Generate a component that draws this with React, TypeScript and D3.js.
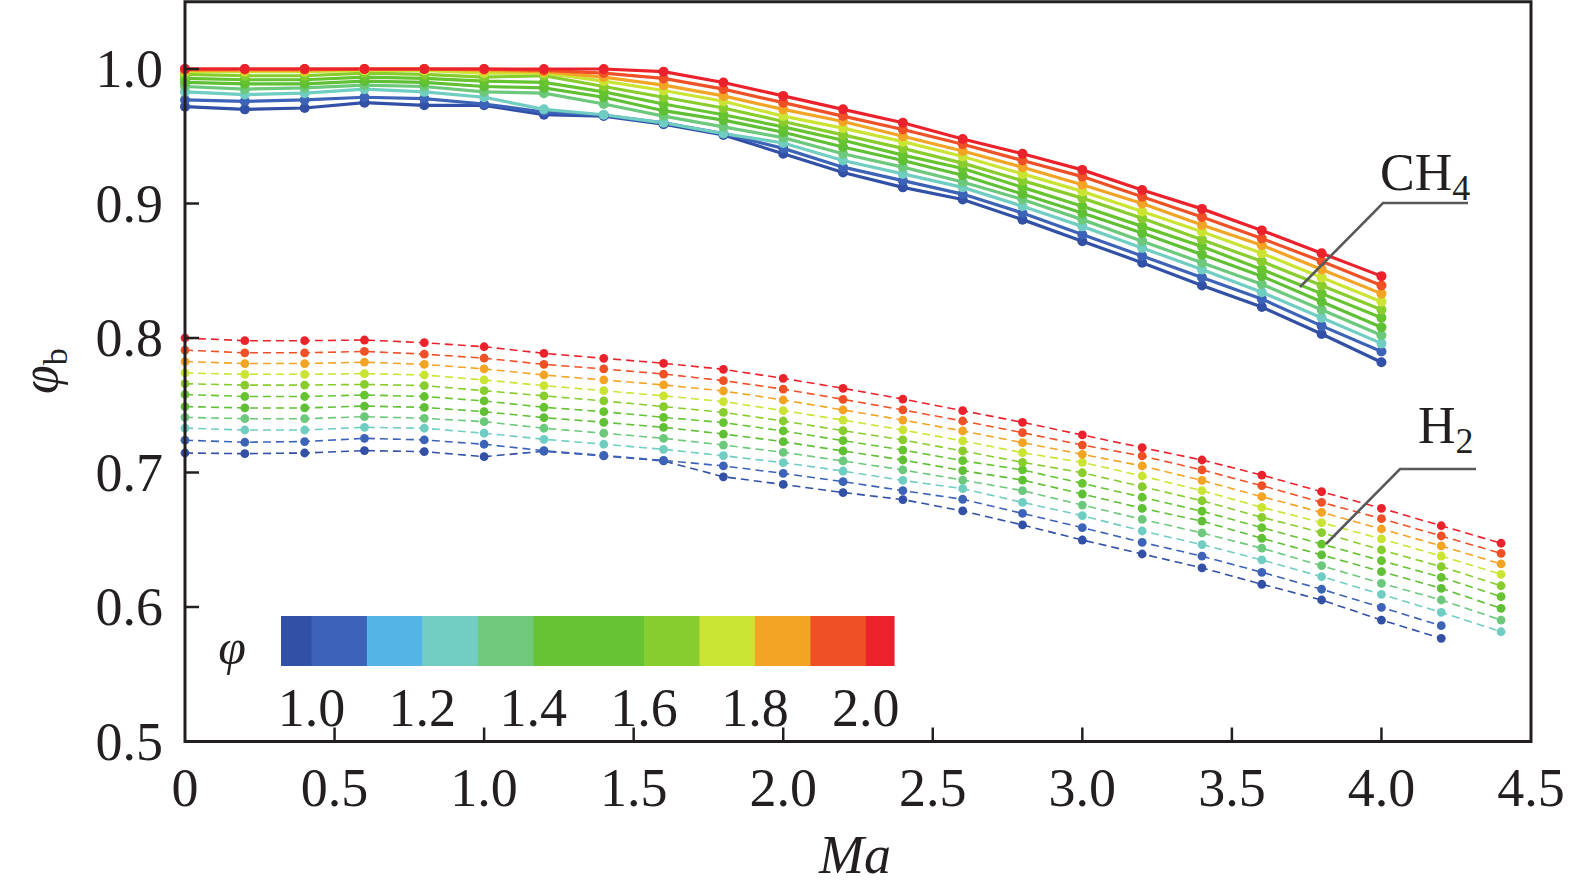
import { line, scaleLinear } from "d3";

// equivalence ratio φ of each series, bottom (1.0) to top (2.0)
const PHI = [1.0, 1.1, 1.2, 1.3, 1.4, 1.5, 1.6, 1.7, 1.8, 1.9, 2.0];
const SERIES_COLORS = [
  "#3150a6",
  "#3d63b9",
  "#70cdc2",
  "#6cc97b",
  "#5fbf35",
  "#66c431",
  "#88cd2d",
  "#cbe433",
  "#f3a424",
  "#ef5026",
  "#eb222b",
];

const MA_CH4 = [
  0, 0.2, 0.4, 0.6, 0.8, 1.0, 1.2, 1.4, 1.6, 1.8, 2.0, 2.2, 2.4, 2.6, 2.8, 3.0,
  3.2, 3.4, 3.6, 3.8, 4.0,
];
const MA_H2 = [
  0, 0.2, 0.4, 0.6, 0.8, 1.0, 1.2, 1.4, 1.6, 1.8, 2.0, 2.2, 2.4, 2.6, 2.8, 3.0,
  3.2, 3.4, 3.6, 3.8, 4.0, 4.2, 4.4,
];

// CH4, one row per φ (same order as PHI)
const CH4_ROWS: number[][] = [
  [0.972, 0.970, 0.971, 0.975, 0.973, 0.973, 0.966, 0.965, 0.959, 0.951, 0.937, 0.923, 0.912, 0.903, 0.888, 0.872, 0.856, 0.839, 0.823, 0.803, 0.782],
  [0.977, 0.976, 0.977, 0.979, 0.978, 0.974, 0.968, 0.9655, 0.960, 0.952, 0.941, 0.927, 0.917, 0.907, 0.893, 0.877, 0.861, 0.845, 0.829, 0.809, 0.790],
  [0.983, 0.981, 0.982, 0.985, 0.983, 0.979, 0.970, 0.966, 0.960, 0.952, 0.945, 0.932, 0.922, 0.912, 0.898, 0.883, 0.867, 0.851, 0.834, 0.815, 0.796],
  [0.987, 0.985, 0.986, 0.988, 0.987, 0.983, 0.982, 0.974, 0.965, 0.957, 0.949, 0.937, 0.927, 0.916, 0.903, 0.888, 0.872, 0.856, 0.840, 0.821, 0.802],
  [0.990, 0.989, 0.989, 0.991, 0.990, 0.987, 0.986, 0.979, 0.969, 0.962, 0.953, 0.942, 0.932, 0.921, 0.907, 0.893, 0.878, 0.862, 0.846, 0.827, 0.808],
  [0.993, 0.992, 0.992, 0.994, 0.993, 0.991, 0.990, 0.983, 0.974, 0.966, 0.957, 0.947, 0.936, 0.926, 0.912, 0.898, 0.883, 0.868, 0.851, 0.833, 0.815],
  [0.996, 0.995, 0.995, 0.997, 0.996, 0.994, 0.995, 0.987, 0.979, 0.971, 0.961, 0.951, 0.941, 0.930, 0.917, 0.904, 0.889, 0.873, 0.857, 0.839, 0.821],
  [0.998, 0.998, 0.998, 0.999, 0.999, 0.997, 0.997, 0.991, 0.984, 0.976, 0.965, 0.956, 0.946, 0.935, 0.922, 0.909, 0.894, 0.879, 0.863, 0.845, 0.827],
  [0.999, 0.999, 0.999, 1.0, 1.0, 0.999, 0.998, 0.994, 0.988, 0.980, 0.970, 0.961, 0.950, 0.939, 0.927, 0.914, 0.900, 0.884, 0.869, 0.851, 0.833],
  [1.0, 1.0, 1.0, 1.0, 1.0, 1.0, 0.999, 0.997, 0.993, 0.985, 0.975, 0.965, 0.955, 0.944, 0.932, 0.920, 0.905, 0.890, 0.874, 0.857, 0.839],
  [1.0, 1.0, 1.0, 1.0, 1.0, 1.0, 1.0, 1.0, 0.998, 0.990, 0.980, 0.970, 0.960, 0.948, 0.937, 0.925, 0.910, 0.896, 0.880, 0.863, 0.846],
];

// H2, one row per φ; φ = 1.0 and 1.1 stop at Ma = 4.2
const H2_ROWS: number[][] = [
  [0.7145, 0.714, 0.7145, 0.7163, 0.7155, 0.7118, 0.7158, 0.7123, 0.7086, 0.6968, 0.6911, 0.6851, 0.6799, 0.6714, 0.661, 0.6498, 0.6394, 0.6291, 0.6169, 0.6052, 0.5903, 0.5767],
  [0.724, 0.7225, 0.723, 0.7254, 0.7242, 0.721, 0.7162, 0.7127, 0.709, 0.7049, 0.6993, 0.6932, 0.6865, 0.6801, 0.6696, 0.659, 0.6481, 0.6378, 0.6258, 0.6132, 0.5997, 0.5861],
  [0.733, 0.7316, 0.7316, 0.7336, 0.7329, 0.7292, 0.7247, 0.721, 0.7172, 0.7125, 0.7073, 0.7011, 0.6941, 0.688, 0.6778, 0.6679, 0.6565, 0.6464, 0.635, 0.6226, 0.6094, 0.596, 0.5816],
  [0.741, 0.74, 0.74, 0.7415, 0.7403, 0.7378, 0.7329, 0.7292, 0.7254, 0.7204, 0.715, 0.7086, 0.7019, 0.6944, 0.6865, 0.6758, 0.6652, 0.6551, 0.6437, 0.6307, 0.6176, 0.6052, 0.5903],
  [0.749, 0.748, 0.748, 0.7494, 0.7484, 0.7452, 0.7408, 0.7373, 0.7336, 0.7286, 0.7229, 0.716, 0.7093, 0.7014, 0.6944, 0.684, 0.6734, 0.6638, 0.6511, 0.6387, 0.6263, 0.6139, 0.599],
  [0.758, 0.7565, 0.7565, 0.7576, 0.7565, 0.7532, 0.7485, 0.7452, 0.741, 0.7371, 0.7309, 0.7237, 0.7167, 0.7088, 0.7019, 0.6919, 0.6816, 0.6712, 0.659, 0.6468, 0.6344, 0.6221, 0.6077],
  [0.766, 0.765, 0.765, 0.7655, 0.7646, 0.7608, 0.757, 0.7532, 0.749, 0.7447, 0.7383, 0.7311, 0.7242, 0.716, 0.7076, 0.6998, 0.6895, 0.679, 0.6667, 0.6553, 0.6424, 0.63, 0.6158],
  [0.774, 0.773, 0.773, 0.7735, 0.7725, 0.7688, 0.7646, 0.7608, 0.757, 0.7527, 0.746, 0.739, 0.7316, 0.7235, 0.7147, 0.7076, 0.6974, 0.6865, 0.6741, 0.6627, 0.6506, 0.6379, 0.6243],
  [0.7825, 0.781, 0.781, 0.782, 0.7804, 0.777, 0.7725, 0.7688, 0.7651, 0.7606, 0.7539, 0.7465, 0.739, 0.7309, 0.7222, 0.7135, 0.7049, 0.6941, 0.682, 0.6704, 0.658, 0.6454, 0.632],
  [0.791, 0.789, 0.789, 0.79, 0.788, 0.785, 0.7804, 0.777, 0.7732, 0.7683, 0.762, 0.7544, 0.7465, 0.7383, 0.7296, 0.7204, 0.7123, 0.7019, 0.6902, 0.6778, 0.6657, 0.6528, 0.6399],
  [0.8, 0.798, 0.798, 0.7985, 0.7965, 0.7935, 0.7886, 0.7849, 0.7812, 0.7767, 0.77, 0.7626, 0.7546, 0.746, 0.7373, 0.7279, 0.7185, 0.7093, 0.6981, 0.6857, 0.6734, 0.6604, 0.6474],
];

const X_TICKS = [0, 0.5, 1.0, 1.5, 2.0, 2.5, 3.0, 3.5, 4.0, 4.5];
const Y_TICKS = [0.5, 0.6, 0.7, 0.8, 0.9, 1.0];

// colour bar bins (edges in φ) and their colours
const BAR_EDGES = [0.945, 1.0, 1.1, 1.2, 1.3, 1.4, 1.6, 1.7, 1.8, 1.9, 2.0, 2.051];
const BAR_COLORS = [
  "#3150a6",
  "#3d63b9",
  "#55b4e6",
  "#72cec2",
  "#6ec97a",
  "#65c334",
  "#87cd2d",
  "#cbe433",
  "#f3a424",
  "#ef5026",
  "#eb222b",
];
const BAR_TICKS = [1.0, 1.2, 1.4, 1.6, 1.8, 2.0];

const W = 1575;
const H = 891;
const INK = "#231f20";
const FONT = "'Liberation Serif', 'Times New Roman', serif";

export default function App() {
  const x = scaleLinear().domain([0, 4.5]).range([185, 1531]);
  const y = scaleLinear().domain([0.5, 1.05]).range([741.5, 1.75]);
  const barX = scaleLinear().domain([1.0, 2.0]).range([311.5, 865.8]);

  const path = line<[number, number]>()
    .x((d) => x(d[0]))
    .y((d) => y(d[1]));

  const ch4 = CH4_ROWS.map((row) =>
    row.map((v, j) => [MA_CH4[j], v] as [number, number])
  );
  const h2 = H2_ROWS.map((row) =>
    row.map((v, j) => [MA_H2[j], v] as [number, number])
  );

  const [x0, x1] = x.range();
  const [yb, yt] = y.range();

  return (
    <svg
      width={W}
      height={H}
      style={{ position: "absolute", left: 0, top: 0, background: "#fff" }}
      fontFamily={FONT}
    >
      {/* H2 : dashed */}
      {h2.map((pts, i) => (
        <path
          key={"h2l" + i}
          d={path(pts) ?? ""}
          fill="none"
          stroke={SERIES_COLORS[i]}
          strokeWidth={1.6}
          strokeDasharray="8 5"
        />
      ))}
      {h2.map((pts, i) =>
        pts.map((d, j) => (
          <circle
            key={"h2p" + i + "-" + j}
            cx={x(d[0])}
            cy={y(d[1])}
            r={4.4}
            fill={SERIES_COLORS[i]}
          />
        ))
      )}

      {/* CH4 : solid */}
      {ch4.map((pts, i) => (
        <path
          key={"ch4l" + i}
          d={path(pts) ?? ""}
          fill="none"
          stroke={SERIES_COLORS[i]}
          strokeWidth={3.2}
        />
      ))}
      {ch4.map((pts, i) =>
        pts.map((d, j) => (
          <circle
            key={"ch4p" + i + "-" + j}
            cx={x(d[0])}
            cy={y(d[1])}
            r={5}
            fill={SERIES_COLORS[i]}
          />
        ))
      )}

      {/* colour bar */}
      {BAR_COLORS.map((c, i) => (
        <rect
          key={"bar" + i}
          x={barX(BAR_EDGES[i])}
          y={616}
          width={barX(BAR_EDGES[i + 1]) - barX(BAR_EDGES[i]) + 0.5}
          height={50}
          fill={c}
        />
      ))}
      {BAR_TICKS.map((t) => (
        <text
          key={"bt" + t}
          x={barX(t)}
          y={726}
          textAnchor="middle"
          fontSize={54}
          fill={INK}
        >
          {t.toFixed(1)}
        </text>
      ))}
      <text x={232} y={664} textAnchor="middle" fontSize={50} fontStyle="italic" fill={INK}>
        φ
      </text>

      {/* frame and ticks */}
      <rect
        x={x0}
        y={yt}
        width={x1 - x0}
        height={yb - yt}
        fill="none"
        stroke={INK}
        strokeWidth={3}
      />
      {X_TICKS.slice(1, -1).map((t) => (
        <line key={"xt" + t} x1={x(t)} x2={x(t)} y1={yb} y2={yb - 14} stroke={INK} strokeWidth={2.5} />
      ))}
      {Y_TICKS.slice(1).map((t) => (
        <line key={"yt" + t} x1={x0} x2={x0 + 14} y1={y(t)} y2={y(t)} stroke={INK} strokeWidth={2.5} />
      ))}
      {X_TICKS.map((t) => (
        <text key={"xl" + t} x={x(t)} y={806} textAnchor="middle" fontSize={54} fill={INK}>
          {t === 0 ? "0" : t.toFixed(1)}
        </text>
      ))}
      {Y_TICKS.map((t) => (
        <text key={"yl" + t} x={163} y={y(t) + 18} textAnchor="end" fontSize={54} fill={INK}>
          {t.toFixed(1)}
        </text>
      ))}

      {/* axis titles */}
      <text x={855} y={873} textAnchor="middle" fontSize={54} fontStyle="italic" fill={INK}>
        Ma
      </text>
      <text transform="translate(57,394) rotate(-90)" fontSize={52} fill={INK}>
        <tspan fontStyle="italic">φ</tspan>
        <tspan fontSize={34} dy={10}>b</tspan>
      </text>

      {/* series annotations */}
      <polyline points="1300,287 1383,203 1468,203" fill="none" stroke="#58595b" strokeWidth={2.6} />
      <text x={1380} y={190} fontSize={52} fill={INK}>
        CH<tspan fontSize={36} dy={10}>4</tspan>
      </text>
      <polyline points="1326,544 1400,469 1476,469" fill="none" stroke="#58595b" strokeWidth={2.6} />
      <text x={1418} y={443} fontSize={52} fill={INK}>
        H<tspan fontSize={36} dy={10}>2</tspan>
      </text>
    </svg>
  );
}
